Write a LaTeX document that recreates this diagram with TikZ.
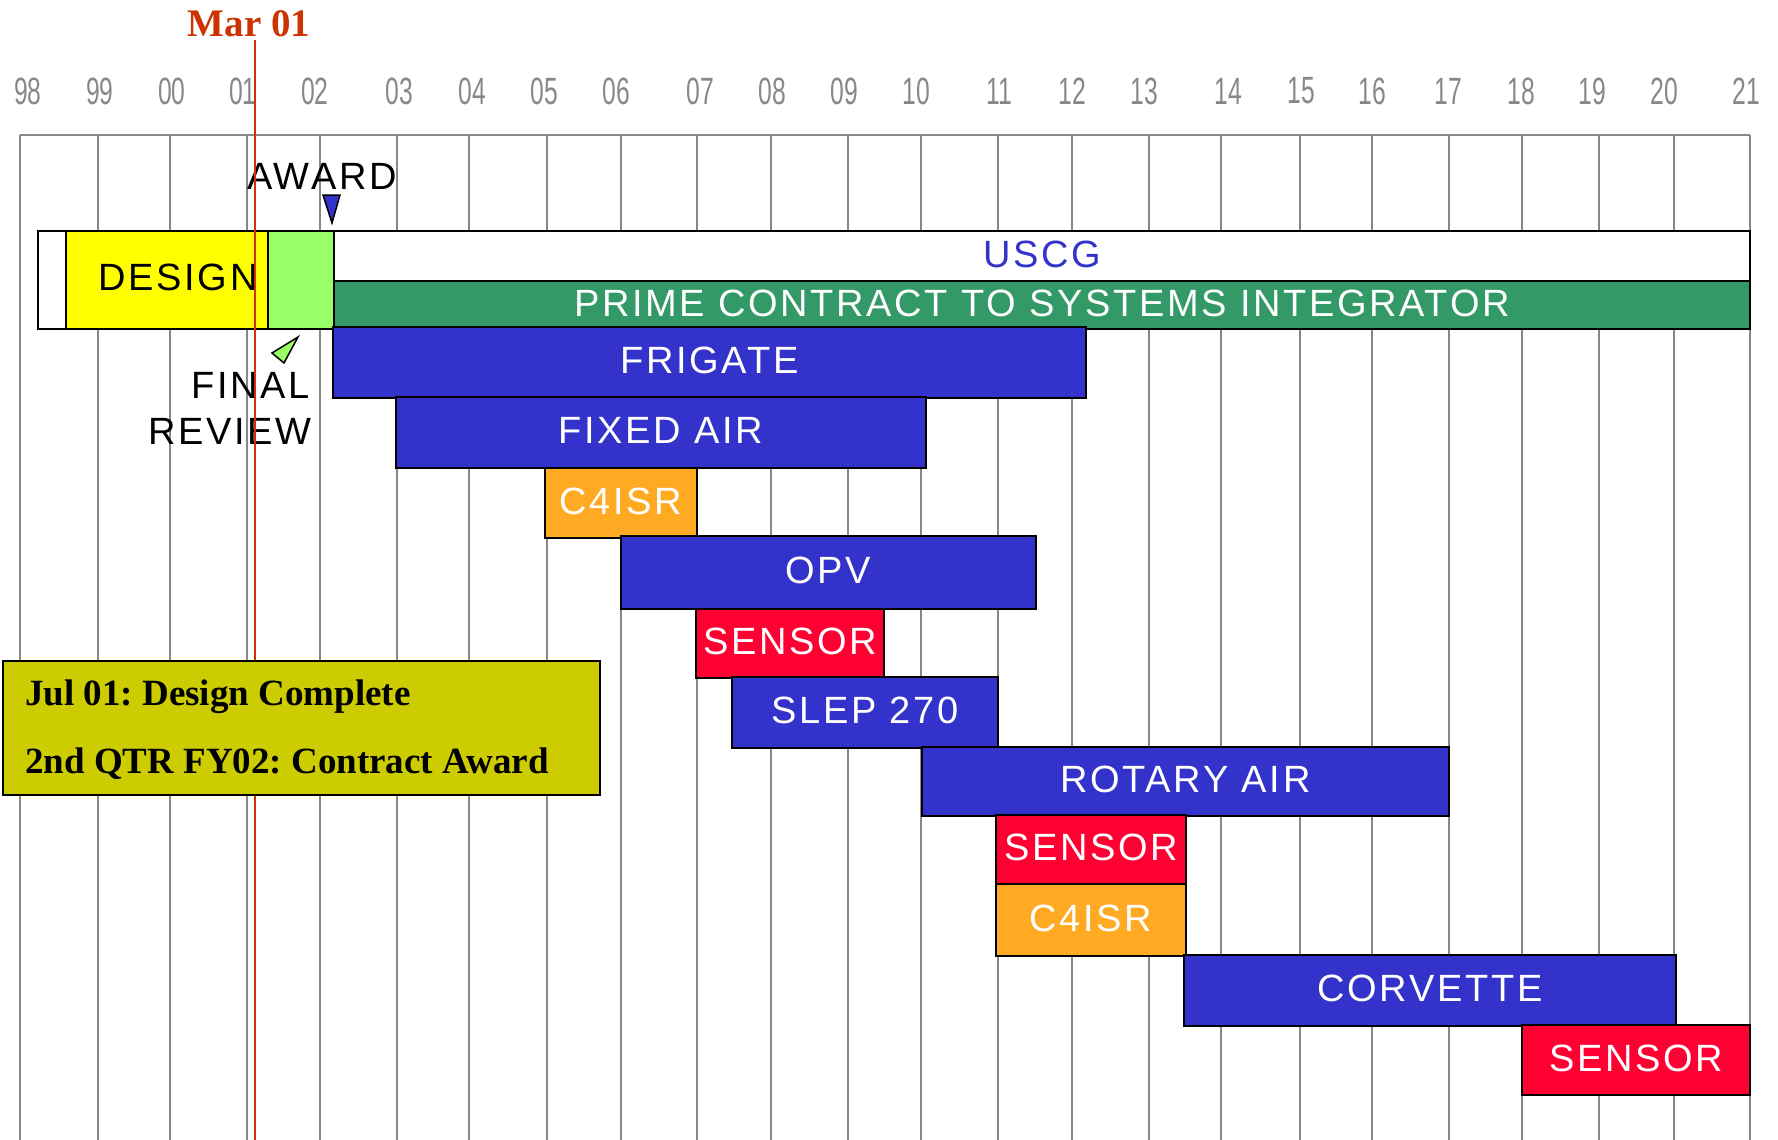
\documentclass[tikz,border=0pt]{standalone}
\usepackage{fontspec}
\setmainfont{Liberation Sans}
\newfontfamily\barfont[LetterSpace=7]{Liberation Sans}
\newfontfamily\yearfont[FakeStretch=0.65]{Liberation Sans}
\newfontfamily\notefont{Liberation Serif}
\usetikzlibrary{fit}
\frenchspacing
\definecolor{barblue}{HTML}{3333CC}
\definecolor{dkgreen}{HTML}{339966}
\definecolor{ltgreen}{HTML}{99FF66}
\definecolor{byellow}{HTML}{FFFF00}
\definecolor{borange}{HTML}{FFAA22}
\definecolor{bred}{HTML}{FF0033}
\definecolor{legendfill}{HTML}{CCCC00}
\definecolor{marred}{HTML}{CC3300}
\definecolor{gridgray}{HTML}{888888}
\tikzset{
  gridline/.style={draw=gridgray, line width=2pt},
  yearlbl/.style={text=gridgray, font=\yearfont\fontsize{38}{40}\selectfont, inner sep=0pt},
  bar/.style={draw=black, line width=2pt, inner sep=0pt},
  bartext/.style={text=white, font=\barfont\fontsize{38}{40}\selectfont, yshift=2pt},
  blacktext/.style={text=black, font=\barfont\fontsize{38}{40}\selectfont, inner sep=0pt},
  marker/.style={draw=black, line width=1.5pt, line join=miter},
  markerline/.style={draw=marred, line width=2pt},
  notetext/.style={text=black, font=\notefont\bfseries\fontsize{37}{40}\selectfont, inner sep=0pt},
}
\begin{document}
\begin{tikzpicture}[x=1pt,y=-1pt]
\useasboundingbox (0,0) rectangle (1778,1140);
% grid
\draw[gridline] (20,135) -- (1750,135);
\foreach \x in {20,97.5,170,247,320,397,469,547,621,697,771,848,921,998,1072,1149,1221,1300,1372,1449,1522,1599,1674,1750}
  \draw[gridline] (\x,135) -- (\x,1140);
% year labels
\foreach \x/\t in {28/98,100/99,172/00,243/01,315/02,399/03,472/04,544/05,616/06,700/07,772/08,844/09,916/10,999/11,1072/12,1144/13,1228/14,1301/15,1372/16,1448/17,1521/18,1592/19,1664/20,1746/21}
  \node[yearlbl] (y\t) at (\x,91) {\t};
% top program bar
\node[bar, fill=white, fit={(38,231)(1750,329)}] (outer) {};
\node[bar, fill=byellow, fit={(66,231)(268,329)}] (design) {};
\node[bar, fill=ltgreen, fit={(268,231)(334,329)}] (review) {};
\node[bar, fill=white, fit={(334,231)(1750,281)}, label={[bartext, text=barblue]center:USCG}] (uscg) {};
\node[bar, fill=dkgreen, fit={(334,281)(1750,329)}, label={[bartext]center:PRIME CONTRACT TO SYSTEMS INTEGRATOR}] (prime) {};
\node[blacktext] (designlbl) at (178,277) {DESIGN};
% segment bars
\node[bar, fill=barblue, fit={(333,327)(1086,398)}, label={[bartext]center:FRIGATE}] (frigate) {};
\node[bar, fill=barblue, fit={(396,397)(926,468)}, label={[bartext]center:FIXED AIR}] (fixedair) {};
\node[bar, fill=borange, fit={(545,468)(697,538)}, label={[bartext]center:C4ISR}] (cfourA) {};
\node[bar, fill=barblue, fit={(621,536)(1036,609)}, label={[bartext]center:OPV}] (opv) {};
\node[bar, fill=bred, fit={(696,609)(884,678)}, label={[bartext]center:SENSOR}] (sensorA) {};
\node[bar, fill=barblue, fit={(732,677)(998,748)}, label={[bartext]center:SLEP 270}] (slep) {};
\node[bar, fill=barblue, fit={(922,747)(1449,816)}, label={[bartext]center:ROTARY AIR}] (rotary) {};
\node[bar, fill=bred, fit={(996,815)(1186,884)}, label={[bartext]center:SENSOR}] (sensorB) {};
\node[bar, fill=borange, fit={(996,884)(1186,956)}, label={[bartext]center:C4ISR}] (cfourB) {};
\node[bar, fill=barblue, fit={(1184,955)(1676,1026)}, label={[bartext]center:CORVETTE}] (corvette) {};
\node[bar, fill=bred, fit={(1522,1025)(1750,1095)}, label={[bartext]center:SENSOR}] (sensorC) {};
% milestones
\node[blacktext, anchor=base] (award) at (322,189) {AWARD};
\draw[marker, fill=barblue] (323,195) -- (340,195) -- (332,223) -- cycle;
\draw[marker, fill=ltgreen] (298,337) -- (272,353) -- (284,363) -- cycle;
\node[blacktext, anchor=base east] (final) at (310,398) {FINAL};
\node[blacktext, anchor=base east] (reviewlbl) at (312,444) {REVIEW};
% Mar 01 marker
\node[text=marred, font=\notefont\bfseries\fontsize{39}{40}\selectfont, anchor=base, inner sep=0pt] (marlbl) at (249,37) {Mar 01};
\coordinate (martop) at (255,40);
\coordinate (marbot) at (255,1140);
\draw[markerline] (martop) -- (marbot);
% legend
\node[bar, fill=legendfill, fit={(3,661)(600,795)}] (legend) {};
\node[notetext, anchor=base west] (noteA) at (25,705) {Jul 01: Design Complete};
\node[notetext, anchor=base west] (noteB) at (25,773) {2nd QTR FY02: Contract Award};
\end{tikzpicture}
\end{document}
